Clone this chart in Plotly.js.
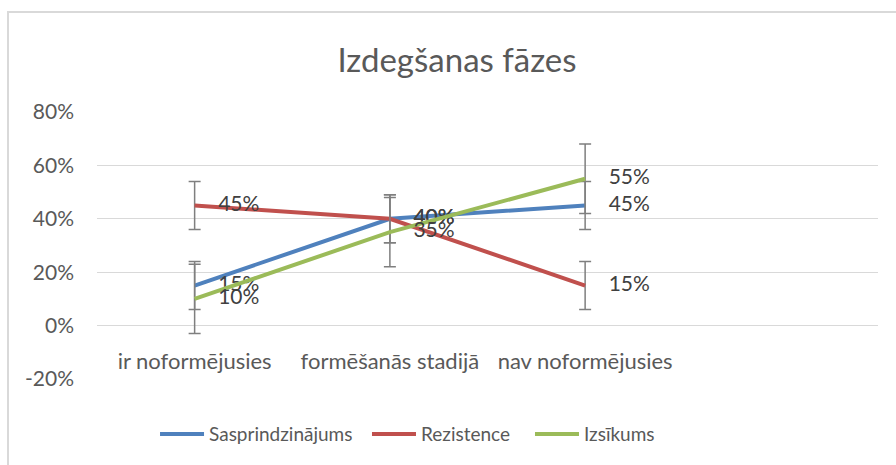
<!DOCTYPE html>
<html>
<head>
<meta charset="utf-8">
<script src="https://cdn.plot.ly/plotly-3.0.1.min.js"></script>
<style>
  html, body { margin: 0; padding: 0; background: #fff; }
  #chart { width: 896px; height: 465px; }
  #frame { position: absolute; left: 7px; top: 11px; width: 900px; height: 470px;
           border-left: 2px solid #d9d9d9; border-top: 2px solid #d9d9d9; pointer-events: none; }
</style>
</head>
<body>
<div id="chart"></div>
<div id="frame"></div>
<script>
const categories = ["ir noformējusies", "formēšanās stadijā", "nav noformējusies"];
const seriesNames = ["Sasprindzinājums", "Rezistence", "Izsīkums"];
const sasprindzinajums = [0.15, 0.40, 0.45];
const rezistence = [0.45, 0.40, 0.15];
const izsikums = [0.10, 0.35, 0.55];
const errSasprindzinajums = [0.09, 0.09, 0.09];
const errRezistence = [0.09, 0.09, 0.09];
const errIzsikums = [0.13, 0.13, 0.13];
const yTicks = [-0.2, 0, 0.2, 0.4, 0.6, 0.8];
const yTickText = yTicks.map(v => Math.round(v * 100) + "%");

const colors = ["#4F81BD", "#C0504D", "#9BBB59"];
const values = [sasprindzinajums, rezistence, izsikums];
const errs = [errSasprindzinajums, errRezistence, errIzsikums];
const legendIds = ["legend", "legend2", "legend3"];
const font = "Lato, 'Open Sans', sans-serif";

const traces = values.map((v, i) => ({
  type: "scatter",
  mode: "lines+markers+text",
  name: seriesNames[i],
  legend: legendIds[i],
  x: categories,
  y: v,
  text: v.map(d => Math.round(d * 100) + "%"),
  textposition: "middle right",
  textfont: { family: font, size: 21, color: "#404040" },
  line: { color: colors[i], width: 4 },
  marker: { size: 36, color: "rgba(0,0,0,0)", line: { width: 0 } },
  error_y: { type: "data", array: errs[i], visible: true, color: "#7f7f7f", thickness: 1.5, width: 6 },
  cliponaxis: false,
  hoverinfo: "skip"
}));

const legendBase = {
  orientation: "h", xanchor: "left", y: -0.135, yanchor: "top",
  font: { family: font, size: 19, color: "#595959" },
  itemwidth: 44, bgcolor: "rgba(0,0,0,0)"
};

const layout = {
  width: 896, height: 465,
  margin: { l: 97, r: 18, t: 112, b: 83 },
  paper_bgcolor: "#ffffff",
  plot_bgcolor: "#ffffff",
  font: { family: font, color: "#595959" },
  title: { text: "Izdegšanas fāzes", font: { family: font, size: 33, color: "#595959" },
           x: 0.51, xanchor: "center", y: 0.87, yanchor: "middle" },
  xaxis: {
    type: "category",
    categoryarray: categories,
    range: [-0.5, 3.5],
    showgrid: false, zeroline: false, showline: false,
    ticks: "", ticklabelstandoff: 20,
    anchor: "free", position: 0.2,
    tickfont: { family: font, size: 22, color: "#595959" }
  },
  yaxis: {
    range: [-0.2, 0.8],
    tickvals: yTicks,
    ticktext: yTickText,
    showgrid: true, gridcolor: "#d9d9d9", gridwidth: 1,
    zeroline: false, showline: false, ticks: "",
    ticklabelstandoff: 22,
    tickfont: { family: font, size: 21, color: "#595959" }
  },
  showlegend: true,
  legend: Object.assign({}, legendBase, { x: 0.0743 }),
  legend2: Object.assign({}, legendBase, { x: 0.3457 }),
  legend3: Object.assign({}, legendBase, { x: 0.5544 })
};

Plotly.newPlot("chart", traces, layout, { displayModeBar: false, staticPlot: true });
</script>
</body>
</html>
